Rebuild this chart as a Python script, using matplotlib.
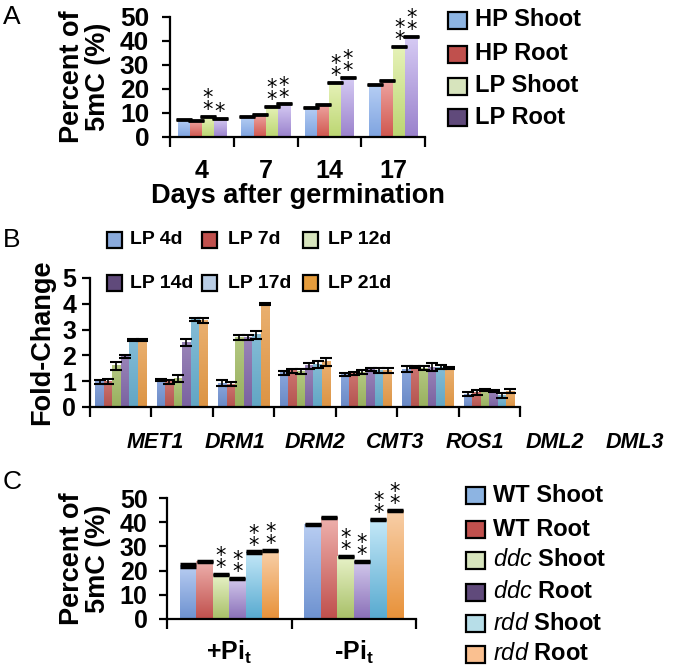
import numpy as np
import matplotlib
matplotlib.use("Agg")
import matplotlib.pyplot as plt
from matplotlib.colors import LinearSegmentedColormap
from matplotlib.patches import Rectangle

plt.rcParams['font.family'] = ['Liberation Sans', 'DejaVu Sans']
plt.rcParams['mathtext.fontset'] = 'custom'
plt.rcParams['mathtext.rm'] = 'Liberation Sans:bold'
plt.rcParams['mathtext.bf'] = 'Liberation Sans:bold'
plt.rcParams['mathtext.it'] = 'Liberation Sans:italic'

W, H = 677, 670

# ---- panel A: % 5mC vs days after germination
days = ['4', '7', '14', '17']
a_labels = ['HP Shoot', 'HP Root', 'LP Shoot', 'LP Root']
hp_shoot = [7.4, 8.5, 12.4, 21.7]
hp_root = [6.8, 9.4, 13.6, 23.5]
lp_shoot = [8.5, 12.6, 22.8, 37.6]
lp_root = [7.9, 13.8, 24.7, 41.8]
a_err = [0.2, 0.2, 0.2, 0.2]
# number of stars above each bar (per series, per day)
a_stars = [[0, 0, 0, 0], [0, 0, 0, 0], [2, 2, 2, 2], [1, 2, 2, 2]]

# ---- panel B: fold change of methylation genes
genes = ['MET1', 'DRM1', 'DRM2', 'CMT3', 'ROS1', 'DML2', 'DML3']
b_labels = ['LP 4d', 'LP 7d', 'LP 12d', 'LP 14d', 'LP 17d', 'LP 21d']
lp_4d = [0.97, 1.05, 0.93, 1.32, 1.27, 1.47, 0.50]
lp_7d = [0.98, 0.97, 0.88, 1.40, 1.30, 1.55, 0.55]
lp_12d = [1.60, 1.10, 2.70, 1.38, 1.35, 1.50, 0.65]
lp_14d = [1.95, 2.50, 2.70, 1.60, 1.45, 1.55, 0.62]
lp_17d = [2.60, 3.40, 2.80, 1.65, 1.40, 1.55, 0.45]
lp_21d = [2.60, 3.35, 4.00, 1.75, 1.40, 1.50, 0.62]
err_4d = [0.08, 0.05, 0.12, 0.07, 0.05, 0.10, 0.08]
err_7d = [0.10, 0.07, 0.07, 0.08, 0.07, 0.05, 0.10]
err_12d = [0.15, 0.15, 0.10, 0.10, 0.08, 0.07, 0.04]
err_14d = [0.05, 0.15, 0.10, 0.12, 0.07, 0.15, 0.05]
err_17d = [0.05, 0.05, 0.15, 0.12, 0.10, 0.08, 0.10]
err_21d = [0.05, 0.10, 0.04, 0.15, 0.10, 0.04, 0.08]

# ---- panel C: % 5mC in mutants
treatments = [r'+Pi$_\mathbf{t}$', r'-Pi$_\mathbf{t}$']
c_labels = ['WT Shoot', 'WT Root', r'$\mathit{ddc}$ Shoot', r'$\mathit{ddc}$ Root',
            r'$\mathit{rdd}$ Shoot', r'$\mathit{rdd}$ Root']
wt_shoot = [22.2, 39.0]
wt_root = [23.9, 41.9]
ddc_shoot = [18.5, 25.7]
ddc_root = [16.8, 23.6]
rdd_shoot = [27.7, 41.0]
rdd_root = [28.4, 44.9]
c_err = [[0.7, 0.25], [0.25, 0.25], [0.25, 0.25], [0.25, 0.25], [0.25, 0.25], [0.25, 0.25]]
c_stars = [[0, 0], [0, 0], [2, 2], [2, 2], [2, 2], [2, 2]]


def fx(x):
    return x / W


def fy(y):
    return 1 - y / H


def gradient_bars(ax, bars, top, bottom):
    cmap = LinearSegmentedColormap.from_list('g', [bottom, top])
    grad = np.linspace(0, 1, 64).reshape(-1, 1)
    for b in bars:
        x, y = b.get_x(), b.get_y()
        ax.imshow(grad, cmap=cmap, extent=[x, x + b.get_width(), y, y + b.get_height()],
                  origin='lower', aspect='auto', zorder=1, interpolation='bilinear')
        b.set_visible(False)


def style_axes(ax, n, ymax, yticks, lw=1.6):
    for s in ['top', 'right']:
        ax.spines[s].set_visible(False)
    for s in ['left', 'bottom']:
        ax.spines[s].set_linewidth(lw)
    ax.set_xlim(-0.5, n - 0.5)
    ax.set_ylim(0, ymax)
    ax.set_yticks(yticks)
    ax.set_xticks(np.arange(n + 1) - 0.5)
    ax.set_xticklabels([])
    ax.set_xticks(np.arange(n), minor=True)
    ax.tick_params(axis='x', which='major', length=7, width=lw)
    ax.tick_params(axis='x', which='minor', length=0)
    ax.tick_params(axis='y', length=6, width=lw)


def draw_legend(fig, labels, colors, x, ys, size, w=19, h=17, gap=8, **kw):
    for lab, c, y in zip(labels, colors, ys):
        fig.patches.append(Rectangle((fx(x), fy(y + h / 2)), w / W, h / H,
                                     transform=fig.transFigure, fc=c, ec='k', lw=1.6))
        fig.text(fx(x + w + gap), fy(y), lab, va='center', ha='left',
                 fontsize=size, fontweight='bold', **kw)


def grouped(ax, series, errs, width, tops, bottoms, stars=None, capsize=5, capthick=2.0,
            elw=1.0, star_size=15):
    n = len(series)
    xs = np.arange(len(series[0]))
    for i, vals in enumerate(series):
        pos = xs + (i - (n - 1) / 2) * width
        bars = ax.bar(pos, vals, width=width)
        gradient_bars(ax, bars, tops[i], bottoms[i])
        ax.errorbar(pos, vals, yerr=errs[i], fmt='none', ecolor='k', elinewidth=elw,
                    capsize=capsize, capthick=capthick, zorder=3)
        if stars is not None:
            for p, v, e, s in zip(pos, vals, np.broadcast_to(errs[i], len(vals)), stars[i]):
                if s:
                    ax.annotate('\n'.join(['*'] * s), (p, v + e), xytext=(0, -3),
                                textcoords='offset points', ha='center', va='bottom',
                                fontsize=star_size, linespacing=0.5,
                                family='DejaVu Sans')


fig = plt.figure(figsize=(W / 100, H / 100), dpi=100)

# ---------------- A
axA = fig.add_axes([fx(170), fy(137), (425 - 170) / W, 120 / H])
grouped(axA, [hp_shoot, hp_root, lp_shoot, lp_root], a_err, 0.19,
        ['#b6cef4', '#eea4a0', '#e6f2b8', '#d6cbf4'],
        ['#7fa4e0', '#d0574f', '#bcd672', '#9a82cc'], stars=a_stars, capsize=5.5)
style_axes(axA, 4, 50, range(0, 51, 10))
axA.set_xticklabels(days, minor=True, fontsize=18, fontweight='bold')
axA.tick_params(axis='x', which='minor', pad=16)
axA.tick_params(axis='y', labelsize=19, pad=9)
for t in axA.get_yticklabels():
    t.set_fontweight('bold')
axA.set_xlabel('Days after germination', fontsize=19.5, fontweight='bold', labelpad=0)
axA.set_ylabel('Percent of\n5mC (%)', fontsize=19.5, fontweight='bold', labelpad=6,
               linespacing=1.0)
draw_legend(fig, a_labels, ['#8db4e2', '#c0504d', '#d7e4bd', '#604a7b'], 448,
            [20, 54, 86, 117], 17)

# ---------------- B
axB = fig.add_axes([fx(90), fy(407), (520 - 90) / W, 129 / H])
grouped(axB, [lp_4d, lp_7d, lp_12d, lp_14d, lp_17d, lp_21d],
        [err_4d, err_7d, err_12d, err_14d, err_17d, err_21d], 0.138,
        ['#8aa6dc', '#cc7470', '#b4c882', '#9984b8', '#84bcd6', '#eab070'],
        ['#6a8ac6', '#b4544f', '#98b05e', '#7a62a0', '#62a6c4', '#dc9444'],
        capsize=4, capthick=1.5, elw=1.2)
style_axes(axB, 7, 5, range(0, 6))
axB.tick_params(axis='y', labelsize=18, pad=4)
for t in axB.get_yticklabels():
    t.set_fontweight('bold')
axB.set_ylabel('Fold-Change', fontsize=19.5, fontweight='bold', labelpad=5)
for i, g in enumerate(genes):
    fig.text(fx(155 + 80 * i), fy(442), g, ha='center', va='center', fontsize=15.5,
             fontweight='bold', fontstyle='italic')
b_cols = ['#8aaadc', '#c0504d', '#d7e4bd', '#604a7b', '#b9cde5', '#e59c3c']
for row in range(2):
    for col in range(3):
        k = row * 3 + col
        draw_legend(fig, [b_labels[k]], [b_cols[k]], [107, 202, 303][col], [240 + 43 * row],
                    14, w=15, h=16, gap=[8, 11, 10][col])

# ---------------- C
axC = fig.add_axes([fx(167), fy(619), (416 - 167) / W, 121 / H])
grouped(axC, [wt_shoot, wt_root, ddc_shoot, ddc_root, rdd_shoot, rdd_root], c_err, 0.132,
        ['#b8cdf2', '#eeb0ac', '#e8f2c8', '#d2c8ec', '#c4e8f8', '#f8cfa8'],
        ['#6e92d0', '#c0504d', '#a8c068', '#8a70b8', '#58aad0', '#e8923a'],
        stars=c_stars, capsize=6, capthick=2.5)
style_axes(axC, 2, 50, range(0, 51, 10))
axC.set_xticklabels(treatments, minor=True, fontsize=18, fontweight='bold')
axC.tick_params(axis='x', which='minor', pad=14)
axC.tick_params(axis='y', labelsize=18, pad=8)
for t in axC.get_yticklabels():
    t.set_fontweight('bold')
axC.set_ylabel('Percent of\n5mC (%)', fontsize=19.5, fontweight='bold', labelpad=6,
               linespacing=1.0)
draw_legend(fig, c_labels, ['#8db4e2', '#c0504d', '#d7e4bd', '#604a7b', '#b7dee8', '#fac090'],
            466, [495, 529, 560, 592, 623, 654], 17)

# panel letters
for letter, y in [('A', 17), ('B', 240), ('C', 482)]:
    fig.text(fx(3), fy(y), letter, fontsize=19, va='center', ha='left')

fig.savefig('out.png', dpi=100)
